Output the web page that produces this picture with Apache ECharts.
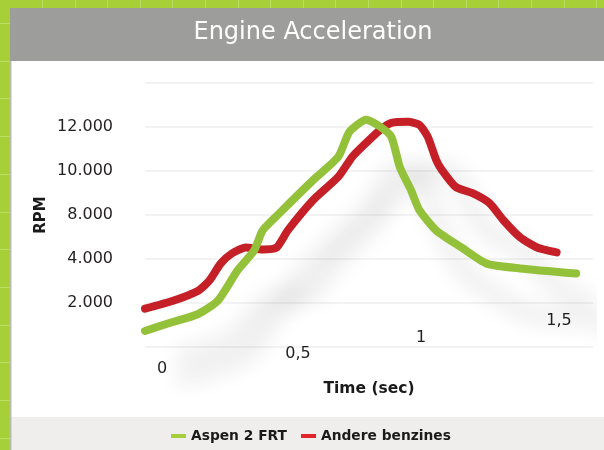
<!DOCTYPE html>
<html><head><meta charset="utf-8">
<script src="https://cdn.jsdelivr.net/npm/echarts@6/dist/echarts.min.js"></script>
<style>html,body{margin:0;padding:0;background:#a6cf38}#c{width:604px;height:450px}</style>
</head><body><div id="c"></div>
<script>
// ---- data ----
const seriesNames = ['Aspen 2 FRT', 'Andere benzines'];
const aspenTime = [0, 0.09, 0.19, 0.26, 0.33, 0.39, 0.42, 0.48, 0.60, 0.69, 0.73, 0.79, 0.84, 0.88, 0.91, 0.95, 0.98, 1.04, 1.13, 1.22, 1.34, 1.54];
const aspenRpm  = [730, 1100, 1500, 2100, 3470, 4780, 6600, 8080, 9580, 10640, 11780, 12330, 12010, 11550, 10180, 9130, 8220, 6600, 5050, 3790, 3570, 3340];
const andereTime = [0, 0.10, 0.19, 0.23, 0.27, 0.31, 0.36, 0.42, 0.47, 0.51, 0.60, 0.69, 0.74, 0.79, 0.84, 0.88, 0.94, 0.98, 1.01, 1.04, 1.06, 1.11, 1.17, 1.23, 1.28, 1.34, 1.40, 1.47];
const andereRpm  = [1740, 2100, 2560, 3020, 3790, 4500, 5050, 4870, 5050, 6600, 8670, 9730, 10640, 11280, 11870, 12190, 12240, 12100, 11550, 10500, 10050, 9270, 8990, 8540, 7520, 5960, 5050, 4600];
// y tick labels are evenly spaced in the original even though their values are not
const yTickValues = [0, 2000, 4000, 8000, 10000, 12000];
const yTickLabels = ['', '2.000', '4.000', '8.000', '10.000', '12.000'];
const xTickValues = [0, 0.5, 1, 1.5];
const xTickLabels = ['0', '0,5', '1', '1,5'];

// map an RPM value onto the evenly spaced tick slots of the y axis
function rpmToSlot(v) {
  for (let i = 1; i < yTickValues.length; i++) {
    if (v <= yTickValues[i] || i === yTickValues.length - 1) {
      const a = yTickValues[i - 1], b = yTickValues[i];
      return (i - 1) + (v - a) / (b - a);
    }
  }
}

const FONT = 'DejaVu Sans';
const rich = {};
const labelPad = [[100, 0, 0, 34], [70, 0, 0, 26], [38, 8, 0, 0], [4, 12, 0, 0]];
xTickLabels.forEach((t, i) => {
  rich['l' + i] = {fontFamily: FONT, fontSize: 16, lineHeight: 16, color: '#231f20', padding: labelPad[i]};
});

const deco = [
  {type: 'rect', z: -5, shape: {x: 10, y: 8, width: 594, height: 53}, style: {fill: '#9d9e9c'}},
  {type: 'rect', z: -5, shape: {x: 10, y: 61, width: 594, height: 356}, style: {fill: '#ffffff'}},
  {type: 'rect', z: -5, shape: {x: 10, y: 417, width: 594, height: 33}, style: {fill: '#efeeec'}},
  {type: 'line', z: -4, shape: {x1: 10.5, y1: 61, x2: 10.5, y2: 450}, style: {stroke: '#b7bbb0', lineWidth: 2}}
];
for (let x = 42; x < 604; x += 32.6) deco.push({type: 'line', z: -4, shape: {x1: Math.round(x) + 0.5, y1: 0, x2: Math.round(x) + 0.5, y2: 8}, style: {stroke: '#bcdd64', lineWidth: 1}});
for (let y = 23; y < 450; y += 37.7) deco.push({type: 'line', z: -4, shape: {x1: 0, y1: Math.round(y) + 0.5, x2: 10, y2: Math.round(y) + 0.5}, style: {stroke: '#bcdd64', lineWidth: 1}});

const shadow = {shadowColor: 'rgba(0,0,0,0.15)', shadowBlur: 22, shadowOffsetX: 35, shadowOffsetY: 48};

const chart = echarts.init(document.getElementById('c'), null, {renderer: 'canvas'});
chart.setOption({
  backgroundColor: '#a6cf38',
  animation: false,
  textStyle: {fontFamily: FONT},
  graphic: deco,
  title: {
    text: 'Engine Acceleration', left: 313, top: 21, textAlign: 'center', padding: 0,
    textStyle: {color: '#ffffff', fontFamily: FONT, fontSize: 24, fontWeight: 'normal'}
  },
  legend: {
    data: seriesNames, left: 171, top: 429, padding: 0, icon: 'rect', itemWidth: 15, itemHeight: 4, itemGap: 14,
    textStyle: {fontFamily: FONT, fontSize: 13.8, fontWeight: 'bold', color: '#1a1a1a'}
  },
  grid: {left: 145, right: 11, top: 83, bottom: 103, outerBoundsMode: 'none'},
  xAxis: {
    type: 'value', min: 0, max: 1.6, interval: 0.5, offset: -36,
    name: 'Time (sec)', nameLocation: 'middle', nameGap: 70, nameMoveOverlap: false,
    nameTextStyle: {fontFamily: FONT, fontSize: 15.5, fontWeight: 'bold', color: '#1a1a1a'},
    axisLine: {show: false, onZero: false}, axisTick: {show: false}, splitLine: {show: false},
    axisLabel: {
      margin: 0, showMaxLabel: false, rich: rich,
      formatter: v => { const i = xTickValues.indexOf(v); return i < 0 ? '' : '{l' + i + '|' + xTickLabels[i] + '}'; }
    }
  },
  yAxis: {
    type: 'value', min: 0, max: 6, interval: 1,
    name: 'RPM', nameLocation: 'middle', nameRotate: 90, nameGap: 96, nameMoveOverlap: false,
    nameTextStyle: {fontFamily: FONT, fontSize: 15, fontWeight: 'bold', color: '#1a1a1a'},
    axisLine: {show: false}, axisTick: {show: false},
    splitLine: {show: true, lineStyle: {color: '#f3f3f3', width: 2}},
    axisLabel: {margin: 32, fontFamily: FONT, fontSize: 16, color: '#231f20', formatter: v => yTickLabels[v] || ''}
  },
  series: [
    {
      name: seriesNames[1], type: 'line', z: 2, showSymbol: false, smooth: 0.2, clip: false,
      data: andereTime.map((t, i) => [t, rpmToSlot(andereRpm[i])]),
      itemStyle: {color: '#e3242b'},
      lineStyle: Object.assign({color: '#c52027', width: 8, cap: 'round', join: 'round'}, shadow)
    },
    {
      name: seriesNames[0], type: 'line', z: 3, showSymbol: false, smooth: 0.2, clip: false,
      data: aspenTime.map((t, i) => [t, rpmToSlot(aspenRpm[i])]),
      itemStyle: {color: '#a6ce39'},
      lineStyle: Object.assign({color: '#94c13a', width: 8, cap: 'round', join: 'round'}, shadow)
    }
  ]
});
</script></body></html>
